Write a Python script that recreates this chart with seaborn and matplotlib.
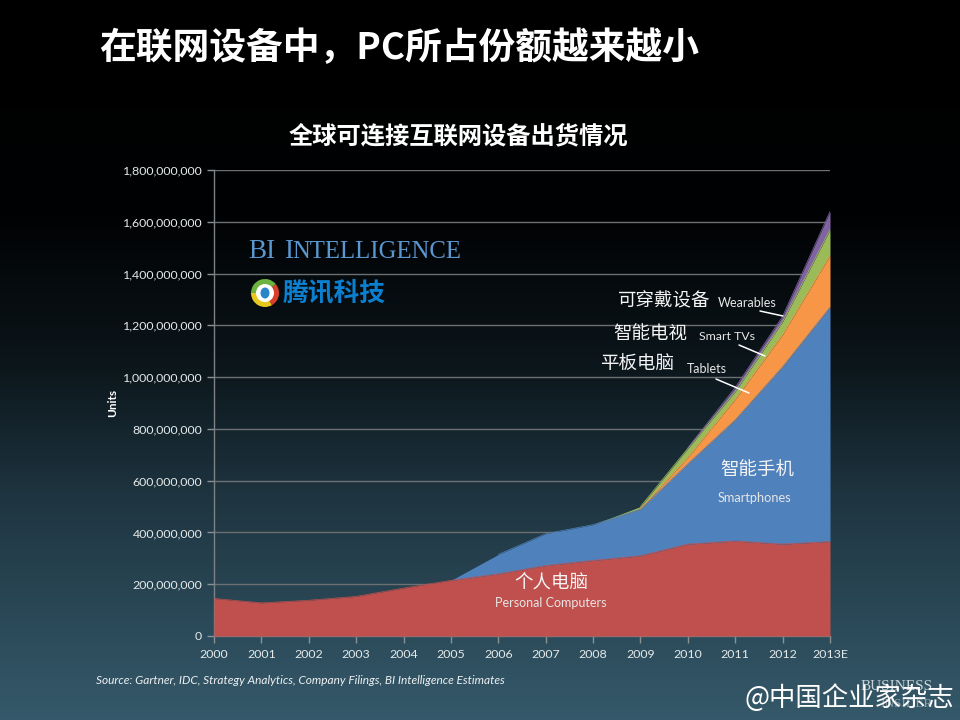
import numpy as np
import pandas as pd
import matplotlib
matplotlib.use('Agg')
import matplotlib.pyplot as plt
import seaborn as sns
from matplotlib.colors import LinearSegmentedColormap
from matplotlib.patches import Circle, Wedge, Ellipse

years = ['2000', '2001', '2002', '2003', '2004', '2005', '2006', '2007', '2008', '2009', '2010', '2011', '2012', '2013E']
pcs = [145, 128, 138, 153, 185, 215, 240, 272, 292, 310, 355, 367, 355, 365]
smartphones = [0, 0, 0, 0, 0, 0, 75, 123, 138, 180, 310, 468, 685, 905]
tablets = [0, 0, 0, 0, 0, 0, 0, 0, 0, 2, 25, 80, 125, 200]
smart_tvs = [0, 0, 0, 0, 0, 0, 0, 0, 0, 8, 35, 30, 50, 100]
wearables = [0, 0, 0, 0, 0, 0, 0, 0, 0, 0, 2, 15, 20, 70]
series_names = ['Personal Computers', 'Smartphones', 'Tablets', 'Smart TVs', 'Wearables']
y_ticks = [0, 200, 400, 600, 800, 1000, 1200, 1400, 1600, 1800]

sns.set_theme(style='dark')
plt.rcParams['font.family'] = ['Noto Sans CJK SC', 'DejaVu Sans']
palette = sns.color_palette(['#c0504d', '#4f81bd', '#f79646', '#9bbb59', '#8064a2'])

df = pd.DataFrame({'year': years, 'Personal Computers': pcs, 'Smartphones': smartphones,
                   'Tablets': tablets, 'Smart TVs': smart_tvs, 'Wearables': wearables})
df['pos'] = range(len(df))

fig = plt.figure(figsize=(9.6, 7.2), dpi=100)

# slide background
bg = fig.add_axes([0, 0, 1, 1], zorder=0)
bg_cmap = LinearSegmentedColormap.from_list('slide', [(0, '#000000'), (0.3, '#010203'), (0.5, '#0b151a'),
                                                      (0.7, '#1f3642'), (1, '#35596a')])
bg.imshow(np.linspace(0, 1, 720).reshape(-1, 1), aspect='auto', cmap=bg_cmap, vmin=0, vmax=1)
bg.axis('off')

# chart, 214..830 px wide and 170..636 px down
ax = fig.add_axes([214 / 960, 1 - 636 / 720, 616 / 960, 466 / 720], zorder=1)
ax.patch.set_alpha(0)
stack_values = [df[name].values * 1e6 for name in series_names]
ax.stackplot(df['pos'], stack_values, colors=palette, linewidth=0, zorder=3)

# top edge of each band so the thin slivers stay visible, only where the band exists
tops = df[series_names].cumsum(axis=1) * 1e6
tops['pos'] = df['pos']
long_tops = tops.melt(id_vars='pos', var_name='series', value_name='units')
long_raw = df.melt(id_vars=['year', 'pos'], var_name='series', value_name='raw')
long_tops = long_tops.merge(long_raw[['pos', 'series', 'raw']], on=['pos', 'series'])
sns.lineplot(data=long_tops[long_tops['raw'] > 0], x='pos', y='units', hue='series',
             palette=dict(zip(series_names, palette)), linewidth=0.5, legend=False, ax=ax, zorder=4)

ax.set_xlim(0, len(years) - 1)
ax.set_ylim(0, 1.8e9)
ax.set_xlabel('')
ax.set_ylabel('')
ax.set_xticks(df['pos'])
ax.set_xticklabels(years)
ax.set_yticks([v * 1e6 for v in y_ticks])
ax.set_yticklabels([f'{v * 1000000:,}' for v in y_ticks])
ax.grid(axis='y', color='#6b7073', linewidth=1)
ax.grid(axis='x', visible=False)
ax.set_axisbelow(True)
ax.tick_params(axis='both', colors='#8a9094', length=5, width=1, labelcolor='#e4e9ea', labelsize=8.9, bottom=True, left=True)
for lab in ax.get_xticklabels() + ax.get_yticklabels():
    lab.set_family(['Lato', 'DejaVu Sans'])
ax.tick_params(axis='x', pad=4.5)
for side in ['top', 'right']:
    ax.spines[side].set_visible(False)
for side in ['left', 'bottom']:
    ax.spines[side].set_color('#7c8285')
    ax.spines[side].set_linewidth(1)

# everything else sits on a pixel-coordinate overlay
ov = fig.add_axes([0, 0, 1, 1], zorder=5)
ov.set_xlim(0, 960)
ov.set_ylim(720, 0)
ov.axis('off')
ov.patch.set_alpha(0)

ov.text(99, 49, '在联网设备中，PC所占份额越来越小', color='white', fontsize=26.5, fontweight='bold', va='center')
ov.text(458, 136, '全球可连接互联网设备出货情况', color='white', fontsize=17.5, fontweight='bold', ha='center', va='center')
ov.text(113, 403, 'Units', color='white', fontsize=8.5, fontweight='bold', rotation=90, ha='center', va='center',
        family=['Lato', 'DejaVu Sans'])

labels_cn = [('可穿戴设备', 618, 301), ('智能电视', 613, 334), ('平板电脑', 600, 365),
             ('智能手机', 720, 471), ('个人电脑', 514, 584)]
for txt, x, y in labels_cn:
    ov.text(x, y, txt, color='#f4f4f4', fontsize=13.3, va='center')

labels_en = [('Wearables', 718, 303, 9), ('Smart TVs', 699, 337, 8.9), ('Tablets', 687, 369, 9),
             ('Smartphones', 718, 498, 9.2), ('Personal Computers', 495, 603, 9)]
for txt, x, y, size in labels_en:
    ov.text(x, y, txt, color='#e6e6e6', fontsize=size, va='center', family=['Lato', 'DejaVu Sans'])

for x0, y0, x1, y1 in [(760, 311, 783, 316), (739, 345, 765, 356), (716, 379, 749, 393)]:
    ov.plot([x0, x1], [y0, y1], color='white', linewidth=1.1)

ov.text(96, 681, 'Source: Gartner, IDC, Strategy Analytics, Company Filings, BI Intelligence Estimates',
        color='#eef1f2', fontsize=8.55, style='italic', va='center', family=['Lato', 'DejaVu Sans'])

# BI Intelligence mark, small caps by hand
bi_blue = '#5a97d0'
serif = ['Liberation Serif', 'DejaVu Serif']
ov.text(248, 258, 'BI', color=bi_blue, fontsize=19.5, va='baseline', family=serif)
ov.text(284, 258, 'I', color=bi_blue, fontsize=19.5, va='baseline', family=serif)
ov.text(292, 258, 'NTELLIGENCE', color=bi_blue, fontsize=17.8, va='baseline', family=serif)

# Tencent mark, angles are mirrored because the overlay's y axis runs downward
cx, cy = 265, 293
ov.add_patch(Wedge((cx, cy), 14, 60, 180, color='#e8c81e', linewidth=0))
ov.add_patch(Wedge((cx, cy), 14, -40, 60, color='#d8402c', linewidth=0))
ov.add_patch(Wedge((cx, cy), 14, 180, 320, color='#6db33f', linewidth=0))
ov.add_patch(Circle((cx, cy), 9, color='white', linewidth=0))
ov.add_patch(Ellipse((cx, cy), 9, 11, color='#2a86c8', linewidth=0))
ov.text(283, 293, '腾讯科技', color='#0b7fd0', fontsize=18.5, fontweight='bold', style='italic', va='center')

# footer
ov.text(861, 686, 'BUSINESS', color='#c9d3d8', fontsize=11, va='center', family=serif)
ov.text(880, 704, 'INSIDER', color='#8fa3ad', fontsize=9.5, va='center', family=serif)
ov.text(745, 698, '@中国企业家杂志', color='white', fontsize=19, va='center')

fig.savefig('out.png', dpi=100)
